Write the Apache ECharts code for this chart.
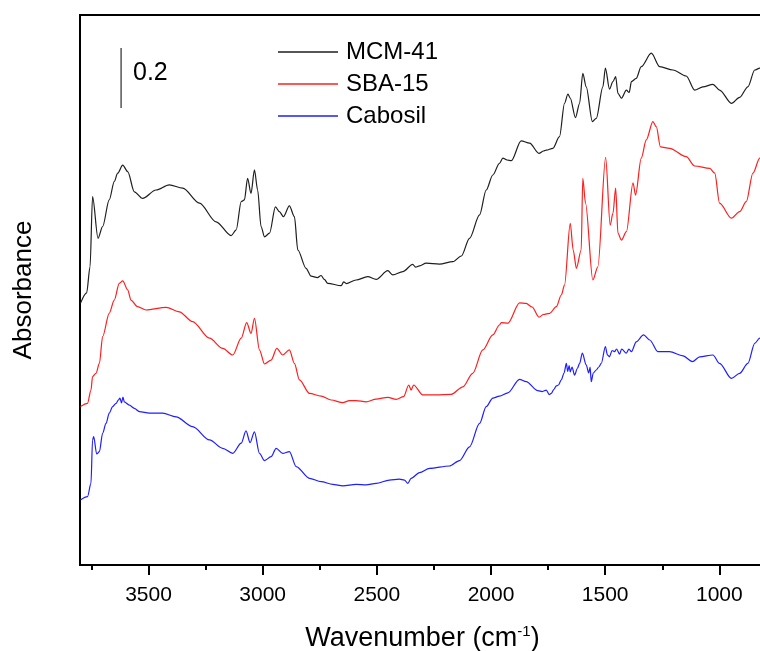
<!DOCTYPE html>
<html>
<head>
<meta charset="utf-8">
<script src="https://cdn.jsdelivr.net/npm/echarts@6/dist/echarts.min.js"></script>
<style>html,body{margin:0;padding:0;background:#fff;}#c{width:760px;height:651px;}</style>
</head>
<body>
<div id="c"></div>
<script>
// Wavenumber (cm-1), absorbance (offset-stacked as plotted)
const mcm41 = [[3798,0.872],[3771,0.907],[3756,0.994],[3745,1.228],[3721,1.089],[3701,1.128],[3672,1.217],[3650,1.278],[3635,1.306],[3613,1.333],[3591,1.311],[3562,1.244],[3526,1.222],[3467,1.25],[3409,1.267],[3350,1.256],[3277,1.206],[3204,1.144],[3138,1.098],[3116,1.117],[3094,1.211],[3080,1.217],[3066,1.289],[3051,1.239],[3036,1.317],[3022,1.25],[3007,1.128],[2992,1.094],[2970,1.106],[2944,1.194],[2927,1.178],[2909,1.161],[2883,1.197],[2861,1.161],[2846,1.05],[2810,0.989],[2788,0.963],[2760,0.958],[2744,0.965],[2730,0.952],[2715,0.939],[2656,0.931],[2645,0.944],[2634,0.938],[2591,0.95],[2540,0.961],[2503,0.952],[2452,0.981],[2430,0.967],[2386,0.978],[2343,1.002],[2330,0.993],[2313,0.997],[2284,1.006],[2226,1.003],[2167,1.011],[2130,1.03],[2094,1.089],[2050,1.167],[2021,1.25],[1992,1.3],[1963,1.339],[1948,1.356],[1930,1.35],[1911,1.348],[1868,1.414],[1831,1.406],[1790,1.372],[1770,1.38],[1758,1.383],[1729,1.389],[1700,1.428],[1678,1.539],[1663,1.57],[1653,1.556],[1630,1.491],[1612,1.539],[1598,1.639],[1583,1.594],[1556,1.478],[1539,1.489],[1510,1.594],[1499,1.656],[1481,1.586],[1466,1.611],[1454,1.628],[1444,1.572],[1429,1.556],[1407,1.583],[1395,1.575],[1385,1.611],[1364,1.622],[1342,1.661],[1298,1.706],[1261,1.661],[1203,1.65],[1145,1.63],[1108,1.583],[1072,1.594],[1028,1.602],[999,1.583],[947,1.539],[911,1.559],[875,1.594],[845,1.65],[823,1.656],[805,1.66]];

const sba15 = [[3798,0.528],[3767,0.539],[3752,0.583],[3745,0.628],[3730,0.639],[3715,0.672],[3701,0.761],[3672,0.839],[3650,0.883],[3628,0.939],[3613,0.947],[3591,0.917],[3577,0.883],[3548,0.861],[3511,0.85],[3423,0.859],[3365,0.844],[3307,0.811],[3233,0.756],[3175,0.722],[3131,0.7],[3094,0.756],[3070,0.808],[3051,0.772],[3036,0.822],[3014,0.717],[2992,0.67],[2963,0.683],[2938,0.722],[2912,0.7],[2883,0.717],[2861,0.672],[2839,0.617],[2795,0.572],[2744,0.563],[2700,0.55],[2649,0.541],[2620,0.548],[2591,0.548],[2547,0.544],[2503,0.553],[2452,0.559],[2415,0.552],[2383,0.561],[2360,0.6],[2350,0.583],[2339,0.6],[2299,0.567],[2240,0.567],[2174,0.569],[2123,0.594],[2080,0.639],[2036,0.717],[1992,0.767],[1963,0.8],[1955,0.808],[1926,0.806],[1875,0.874],[1846,0.872],[1820,0.86],[1790,0.826],[1770,0.835],[1743,0.839],[1714,0.861],[1692,0.9],[1678,0.933],[1653,1.139],[1640,1.05],[1626,0.989],[1605,1.05],[1598,1.289],[1586,1.206],[1554,0.95],[1532,0.994],[1498,1.359],[1478,1.133],[1466,1.172],[1454,1.256],[1444,1.106],[1429,1.083],[1407,1.111],[1378,1.274],[1367,1.233],[1342,1.356],[1320,1.417],[1291,1.478],[1276,1.461],[1258,1.394],[1218,1.389],[1145,1.361],[1108,1.33],[1042,1.322],[1020,1.306],[999,1.206],[947,1.156],[911,1.178],[882,1.211],[853,1.306],[823,1.356],[805,1.36]];

const cabosil = [[3798,0.217],[3767,0.228],[3752,0.272],[3745,0.417],[3740,0.428],[3727,0.37],[3715,0.378],[3701,0.439],[3686,0.472],[3672,0.506],[3657,0.528],[3642,0.539],[3632,0.55],[3625,0.556],[3618,0.54],[3612,0.56],[3606,0.544],[3584,0.533],[3562,0.522],[3540,0.511],[3496,0.506],[3438,0.506],[3379,0.494],[3307,0.461],[3233,0.417],[3175,0.389],[3131,0.372],[3094,0.406],[3073,0.447],[3055,0.408],[3036,0.444],[3014,0.372],[2992,0.348],[2963,0.361],[2941,0.389],[2912,0.372],[2883,0.378],[2853,0.328],[2795,0.289],[2744,0.278],[2693,0.269],[2649,0.264],[2591,0.269],[2547,0.267],[2503,0.272],[2445,0.283],[2401,0.286],[2379,0.283],[2364,0.272],[2350,0.289],[2313,0.308],[2269,0.322],[2182,0.33],[2138,0.348],[2094,0.394],[2050,0.472],[2021,0.528],[1992,0.556],[1963,0.563],[1926,0.574],[1875,0.619],[1846,0.611],[1795,0.581],[1775,0.578],[1758,0.583],[1745,0.568],[1736,0.572],[1725,0.585],[1714,0.597],[1705,0.6],[1692,0.617],[1680,0.64],[1670,0.672],[1664,0.645],[1658,0.665],[1653,0.644],[1645,0.66],[1634,0.633],[1622,0.655],[1612,0.672],[1600,0.706],[1583,0.667],[1572,0.64],[1566,0.66],[1561,0.611],[1552,0.64],[1539,0.65],[1528,0.66],[1517,0.672],[1499,0.728],[1490,0.7],[1481,0.694],[1470,0.715],[1459,0.711],[1450,0.72],[1437,0.703],[1428,0.72],[1407,0.706],[1396,0.72],[1385,0.711],[1364,0.744],[1332,0.767],[1305,0.75],[1269,0.711],[1218,0.711],[1159,0.697],[1118,0.678],[1086,0.694],[1028,0.7],[999,0.672],[947,0.622],[911,0.639],[875,0.672],[845,0.739],[823,0.756],[805,0.76]];

const seriesNames = ['MCM-41', 'SBA-15', 'Cabosil'];
const seriesColors = ['#1e1e1e', '#ff1e1e', '#1e1eff'];
const majorTicks = [1000, 1500, 2000, 2500, 3000, 3500];
const minorTicks = [1250, 1750, 2250, 2750, 3250, 3750];
const scaleBarX = 3620;
const scaleBarY = [1.523, 1.723];
const scaleBarLabel = '0.2';

const chart = echarts.init(document.getElementById('c'), null, {renderer: 'canvas'});
const font = 'Liberation Sans, Arial, sans-serif';
const xBase = {
  type: 'value', inverse: true, min: 800, max: 3800, position: 'bottom',
  splitLine: {show: false}, axisLine: {show: false}
};
const lineSeries = (name, data, color) => ({
  name: name, type: 'line', data: data, symbol: 'none', color: color,
  smooth: 0.3, smoothMonotone: 'x', lineStyle: {width: 1.2}
});
chart.setOption({
  animation: false,
  backgroundColor: '#fff',
  grid: {left: 80, right: -5, top: 15, bottom: 86, show: true, borderColor: '#000', borderWidth: 2, containLabel: false, outerBoundsMode: 'none'},
  legend: {
    data: seriesNames, orient: 'vertical', left: 278, top: 36, padding: 0,
    icon: 'rect', itemWidth: 60, itemHeight: 1.5, itemGap: 0,
    textStyle: {fontFamily: font, fontSize: 24, color: '#000', lineHeight: 32, padding: [0, 0, 0, 3]}
  },
  xAxis: [
    Object.assign({}, xBase, {
      name: '{a|Wavenumber (cm}{s|-1}{a|)}', nameLocation: 'middle', nameGap: 59,
      nameTextStyle: {rich: {a: {fontFamily: font, fontSize: 27, color: '#000'}, s: {fontFamily: font, fontSize: 15, color: '#000', padding: [0, 0, 14, 0]}}},
      axisTick: {show: true, length: 10, lineStyle: {color: '#000', width: 2}, customValues: majorTicks},
      axisLabel: {show: true, margin: 20, fontFamily: font, fontSize: 21, color: '#000', customValues: majorTicks, formatter: v => String(v)}
    }),
    Object.assign({}, xBase, {
      axisTick: {show: true, length: 5, lineStyle: {color: '#000', width: 2}, customValues: minorTicks},
      axisLabel: {show: false}
    })
  ],
  yAxis: {
    type: 'value', min: 0, max: 1.8333,
    name: 'Absorbance', nameLocation: 'middle', nameGap: 43,
    nameTextStyle: {fontFamily: font, fontSize: 26, color: '#000'},
    axisLine: {show: false}, axisTick: {show: false}, axisLabel: {show: false}, splitLine: {show: false}
  },
  graphic: [{
    type: 'text', left: 133, top: 61,
    style: {text: scaleBarLabel, fontFamily: font, fontSize: 25, fill: '#000'}
  }],
  series: [
    lineSeries(seriesNames[0], mcm41, seriesColors[0]),
    lineSeries(seriesNames[1], sba15, seriesColors[1]),
    lineSeries(seriesNames[2], cabosil, seriesColors[2]),
    {name: 'scale', type: 'line', data: [[scaleBarX, scaleBarY[0]], [scaleBarX, scaleBarY[1]]], symbol: 'none', color: '#555', lineStyle: {width: 1.5}, silent: true}
  ]
});
</script>
</body>
</html>
